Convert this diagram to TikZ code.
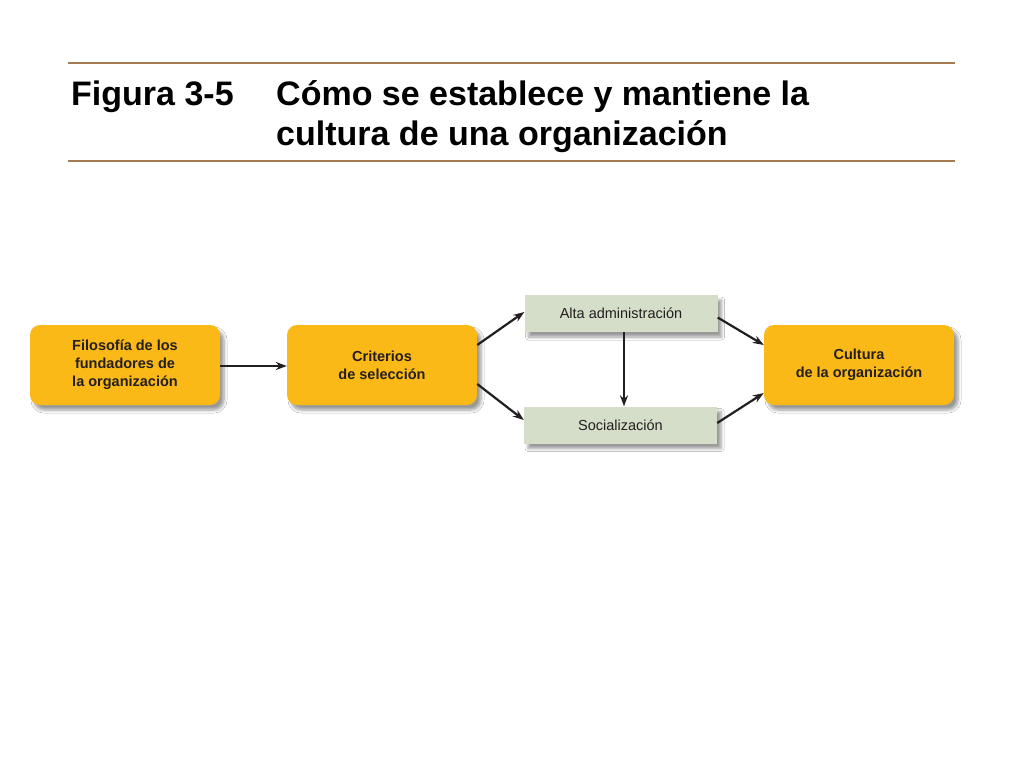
\documentclass[tikz,border=0pt]{standalone}
\usepackage{fontspec}
\setmainfont{Liberation Sans}
\usetikzlibrary{arrows.meta,shadows.blur,positioning}
\definecolor{boxyellow}{HTML}{FBB917}
\definecolor{boxgreen}{HTML}{D5DEC8}
\definecolor{rulebrown}{HTML}{A57C52}
\definecolor{txt}{HTML}{231F20}
\tikzset{
  shad/.style={blur shadow={shadow xshift=4pt, shadow yshift=-5pt, shadow blur steps=6, shadow blur radius=3pt, shadow opacity=40}},
  ybox/.style={fill=boxyellow, rounded corners=10pt, minimum width=190pt, minimum height=80pt,
    align=center, text=txt, font=\fontsize{14.5}{18}\selectfont\bfseries, inner sep=0pt, shad},
  gbox/.style={fill=boxgreen, minimum width=193pt, minimum height=37pt,
    align=center, text=txt, font=\fontsize{14.5}{18}\selectfont, inner sep=0pt, shad},
  arr/.style={-{Stealth[length=11pt,width=8pt]}, line width=2.2pt, draw=txt},
  hrule/.style={draw=rulebrown, line width=2pt},
  title/.style={anchor=base west, inner sep=0pt, font=\fontsize{34}{40}\selectfont\bfseries, text=black,
    align=left}
}
\begin{document}
\begin{tikzpicture}[x=1pt,y=-1pt]
\useasboundingbox[fill=white] (0,0) rectangle (1024,768);
\draw[hrule] (68,63) coordinate (r1a) -- (955,63) coordinate (r1b);
\draw[hrule] (68,161) coordinate (r2a) -- (955,161) coordinate (r2b);
\node[title] (fig) at (71,105) {Figura 3-5};
\node[title] (tt1) at (276,105) {Cómo se establece y mantiene la};
\node[title] (tt2) at (276,145) {cultura de una organización};

\node[ybox] (fil) at (125,365) {Filosofía de los\\fundadores de\\la organización};
\node[ybox] (cri) at (382,365) {Criterios\\de selección};
\node[gbox] (alt) at (621,313.5) {Alta administración};
\node[gbox] (soc) at (620.5,425) {Socialización};
\node[ybox] (cul) at (859,365) {Cultura\\de la organización};

\draw[arr] ([yshift=-1pt]fil.east) -- ([yshift=-1pt]cri.west);
\draw[arr] ([yshift=20pt]cri.east) -- ([yshift=1.5pt]alt.west);
\draw[arr] ([yshift=-19pt]cri.east) -- ([yshift=5pt]soc.west);
\draw[arr] ([xshift=3pt]alt.south) -- ([xshift=3.5pt]soc.north);
\draw[arr] ([yshift=-4pt]alt.east) -- ([yshift=20pt]cul.west);
\draw[arr] ([yshift=2pt]soc.east) -- ([yshift=-28pt]cul.west);
\end{tikzpicture}
\end{document}
